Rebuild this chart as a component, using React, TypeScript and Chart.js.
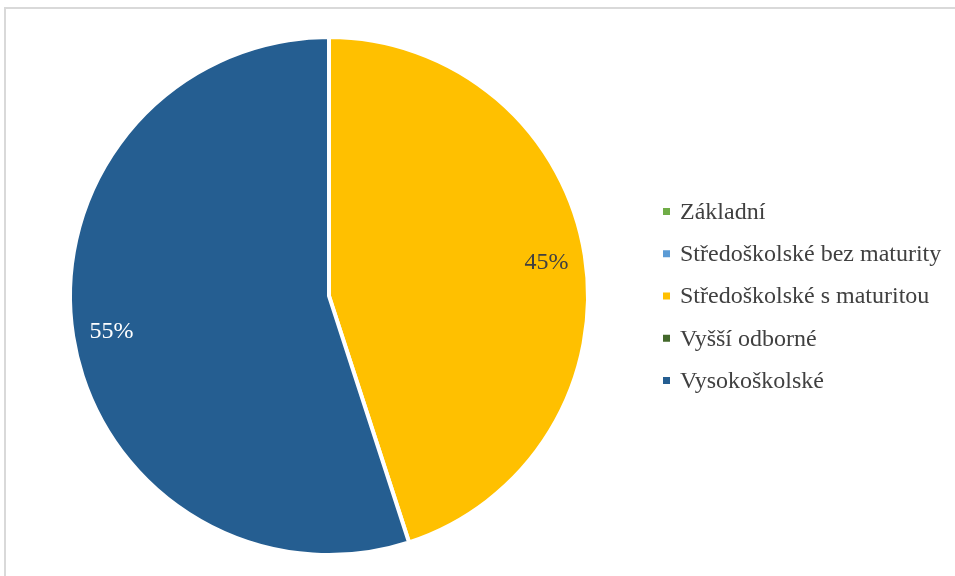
import React, { useEffect, useRef } from "react";
import { Chart, registerables } from "chart.js";

Chart.register(...registerables);

const categories = [
  "Základní",
  "Středoškolské bez maturity",
  "Středoškolské s maturitou",
  "Vyšší odborné",
  "Vysokoškolské",
];
const shares = [0, 0, 45, 0, 55];
const colors = ["#70ad47", "#5b9bd5", "#ffc000", "#43682b", "#255e91"];
const labelColors = ["#404040", "#404040", "#404040", "#ffffff", "#ffffff"];

const FONT = '"Liberation Serif", "Times New Roman", serif';

const framePlugin = {
  id: "frame",
  beforeDraw(chart: any) {
    const ctx = chart.ctx;
    ctx.save();
    ctx.fillStyle = "#ffffff";
    ctx.fillRect(0, 0, chart.width, chart.height);
    ctx.strokeStyle = "#d9d9d9";
    ctx.lineWidth = 2;
    ctx.beginPath();
    ctx.moveTo(5, chart.height + 10);
    ctx.lineTo(5, 8);
    ctx.lineTo(chart.width + 10, 8);
    ctx.stroke();
    ctx.restore();
  },
};

const labelPlugin = {
  id: "sliceLabels",
  afterDatasetsDraw(chart: any) {
    const ctx = chart.ctx;
    const meta = chart.getDatasetMeta(0);
    const data = chart.data.datasets[0].data as number[];
    const total = data.reduce((a, b) => a + b, 0);
    ctx.save();
    ctx.font = `24px ${FONT}`;
    ctx.textAlign = "center";
    ctx.textBaseline = "middle";
    meta.data.forEach((arc: any, i: number) => {
      if (!data[i]) return;
      const { x, y, startAngle, endAngle, outerRadius } = arc.getProps(
        ["x", "y", "startAngle", "endAngle", "outerRadius"],
        true
      );
      const mid = (startAngle + endAngle) / 2;
      const r = outerRadius * 0.85;
      ctx.fillStyle = labelColors[i];
      ctx.fillText(
        Math.round((data[i] / total) * 100) + "%",
        x + Math.cos(mid) * r,
        y + Math.sin(mid) * r + 1
      );
    });
    ctx.restore();
  },
};

const legendPlugin = {
  id: "customLegend",
  afterDraw(chart: any) {
    const ctx = chart.ctx;
    const meta = chart.getDatasetMeta(0);
    const cy = meta.data[0] ? meta.data[0].y : chart.height / 2;
    const labels = chart.data.labels as string[];
    const bg = chart.data.datasets[0].backgroundColor as string[];
    const step = 42.25;
    const n = labels.length;
    ctx.save();
    ctx.font = `24px ${FONT}`;
    ctx.textBaseline = "middle";
    ctx.textAlign = "left";
    labels.forEach((lab, i) => {
      const y = cy + (i - (n - 1) / 2) * step;
      ctx.fillStyle = bg[i];
      ctx.fillRect(663, y - 3.5, 7, 7);
      ctx.fillStyle = "#404040";
      ctx.fillText(lab, 680, y + 1);
    });
    ctx.restore();
  },
};

export default function App() {
  const ref = useRef<HTMLCanvasElement>(null);
  useEffect(() => {
    if (!ref.current) return;
    const chart = new Chart(ref.current, {
      type: "pie",
      data: {
        labels: categories,
        datasets: [
          {
            data: shares,
            backgroundColor: colors,
            borderColor: "#ffffff",
            borderWidth: 4,
          },
        ],
      },
      options: {
        responsive: false,
        animation: false,
        events: [],
        layout: { padding: { left: 68, top: 35, right: 365, bottom: 19 } },
        plugins: {
          legend: { display: false },
          tooltip: { enabled: false },
        },
      },
      plugins: [framePlugin, labelPlugin, legendPlugin],
    });
    return () => chart.destroy();
  }, []);
  return (
    <div style={{ position: "fixed", left: 0, top: 0, width: 955, height: 576 }}>
      <canvas ref={ref} width={955} height={576} style={{ display: "block" }} />
    </div>
  );
}
